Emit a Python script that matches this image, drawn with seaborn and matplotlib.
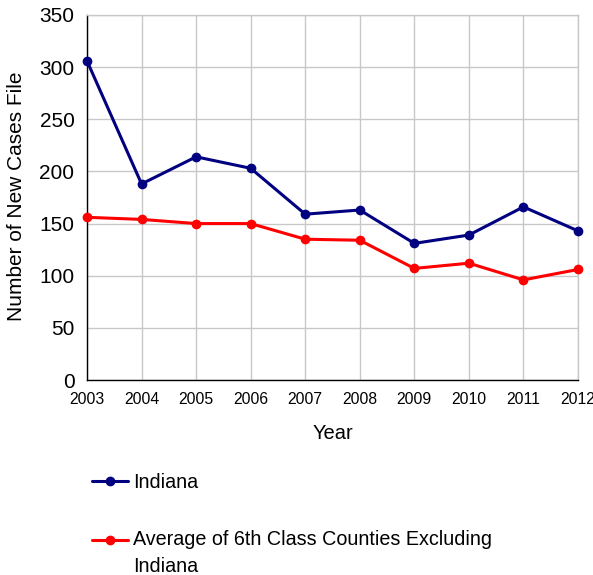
import pandas as pd
import matplotlib
matplotlib.use("Agg")
from matplotlib import pyplot as plt
from matplotlib.transforms import Bbox
import seaborn as sns

# data
years = [2003, 2004, 2005, 2006, 2007, 2008, 2009, 2010, 2011, 2012]
indiana = [306, 188, 214, 203, 159, 163, 131, 139, 166, 143]
avg_6th_class = [156, 154, 150, 150, 135, 134, 107, 112, 96, 106]
series_names = ["Indiana", "Average of 6th Class Counties Excluding\nIndiana"]
colors = ["#000080", "#FF0000"]

df = pd.DataFrame({
    "Year": years * 2,
    "Cases": indiana + avg_6th_class,
    "Series": [series_names[0]] * len(years) + [series_names[1]] * len(years),
})

sns.set_style("white")
plt.rcParams["font.family"] = ["Liberation Sans", "DejaVu Sans"]
plt.rcParams["text.color"] = "black"
plt.rcParams["axes.labelcolor"] = "black"
plt.rcParams["xtick.color"] = "black"
plt.rcParams["ytick.color"] = "black"

fig = plt.figure(figsize=(5.93, 5.75), dpi=100)
ax = fig.add_axes([87 / 593, 1 - 380 / 575, 491 / 593, 365 / 575])

sns.lineplot(data=df, x="Year", y="Cases", hue="Series", palette=colors,
             marker="o", markersize=7, markeredgewidth=0, linewidth=2.2,
             ax=ax, legend=False, clip_on=False, zorder=3)

ax.set_xlim(2003, 2012)
ax.set_ylim(0, 350)
ax.set_xticks(years)
ax.set_yticks(range(0, 351, 50))
ax.tick_params(axis="x", labelsize=11.3, length=4.5, width=1, direction="out",
               color="black", labelcolor="black", pad=4)
ax.tick_params(axis="y", labelsize=15, length=5, width=1, direction="out",
               color="black", labelcolor="black", pad=4)
ax.grid(True, color="#c8c8c8", linewidth=1)
for side in ["top", "right"]:
    ax.spines[side].set_color("#c8c8c8")
    ax.spines[side].set_linewidth(1)
for side in ["left", "bottom"]:
    ax.spines[side].set_color("black")
    ax.spines[side].set_linewidth(1)

ax.set_xlabel("Year", fontsize=14.5, color="black")
ax.xaxis.set_label_coords(0.5, -(424 - 380) / 365)
ylab = ax.set_ylabel("Number of New Cases Filed", fontsize=15, color="black")
ax.yaxis.set_label_coords(-(87 - 26) / 491, 0.52)
# the original label is cut off at the top
ylab.set_clip_box(Bbox([[0, 0], [593, 575 - 72]]))
ylab.set_clip_on(True)

handles = [plt.Line2D([], [], color=c, marker="o", markersize=6, linewidth=2.2)
           for c in colors]
leg = fig.legend(handles, series_names, loc="upper left",
                 bbox_to_anchor=(74 / 593, 1 - 455 / 575), frameon=False,
                 fontsize=14.2, handlelength=1.85, handletextpad=0.25,
                 labelspacing=1.95)
for t in leg.get_texts():
    t.set_linespacing(1.5)
    t.set_color("black")
# keep the red handle next to the first line of its two-line label
red = leg.get_lines()[1]
red.set_ydata([y + 10 for y in red.get_ydata()])

fig.savefig("out.png", dpi=100)
